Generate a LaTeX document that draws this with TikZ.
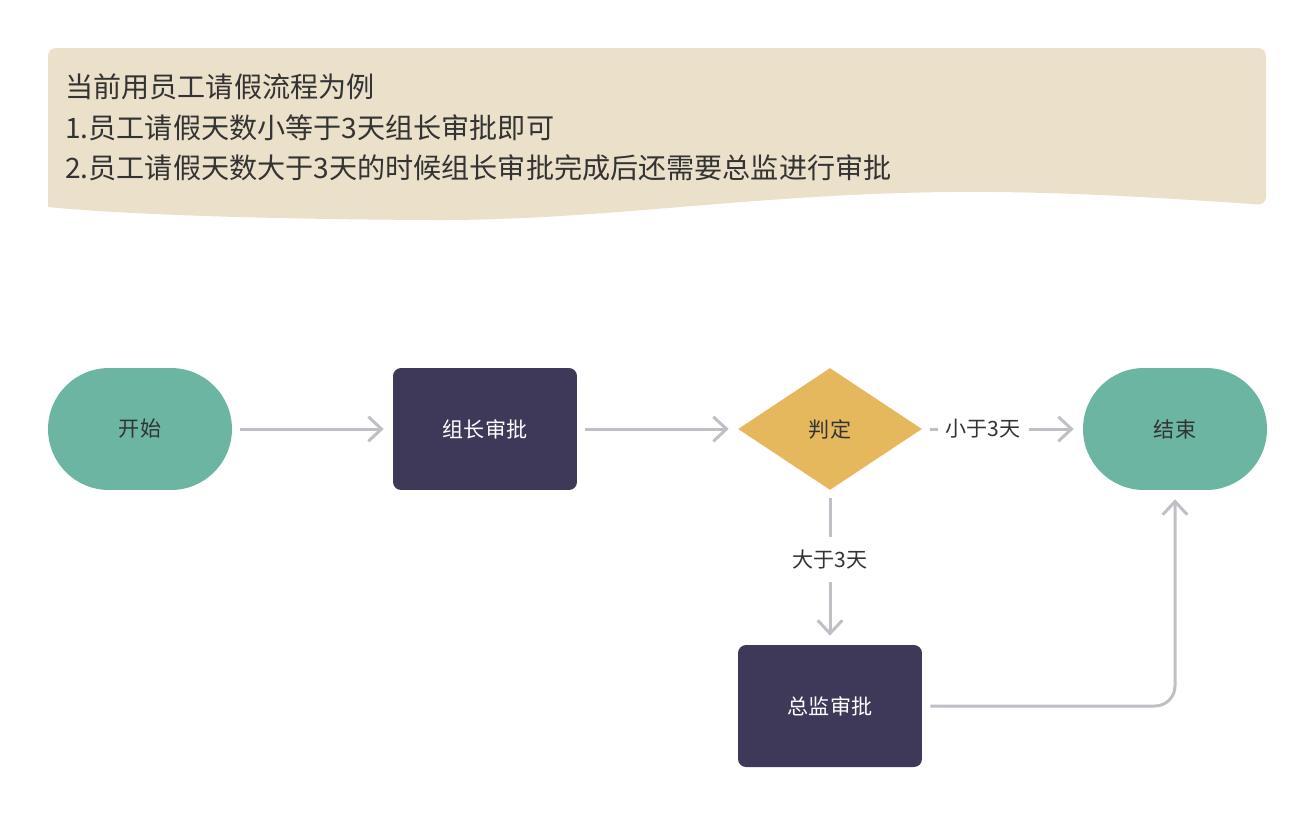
\documentclass[tikz,border=0pt]{standalone}
\usepackage{fontspec}
\setmainfont{Noto Sans CJK SC}
\usepackage{tikz}
\usetikzlibrary{arrows.meta,shapes.geometric}

\definecolor{bannerbg}{HTML}{EBE0CA}
\definecolor{termfill}{HTML}{6BB5A2}
\definecolor{taskfill}{HTML}{3E3859}
\definecolor{judgefill}{HTML}{E6B85E}
\definecolor{linegray}{HTML}{BFC0C5}
\definecolor{txtdark}{HTML}{333333}

\begin{document}
\begin{tikzpicture}[x=0.02cm,y=-0.02cm,
  >={Straight Barb[length=7.5pt,width=14pt]},
  terminal/.style={rectangle,rounded corners=1.22cm,fill=termfill,text=txtdark,
    minimum width=3.68cm,minimum height=2.44cm,font=\fontsize{12}{14}\selectfont},
  task/.style={rectangle,rounded corners=0.16cm,fill=taskfill,text=white,
    minimum width=3.68cm,minimum height=2.44cm,font=\fontsize{12}{14}\selectfont},
  judge/.style={diamond,fill=judgefill,text=txtdark,aspect=1.51,inner sep=0pt,
    minimum width=3.68cm,minimum height=2.44cm,font=\fontsize{12}{14}\selectfont},
  flow/.style={->,draw=linegray,line width=1.7pt,shorten <=0.16cm,shorten >=0.18cm},
  lbl/.style={fill=white,text=txtdark,inner xsep=0.16cm,inner ysep=0.26cm,
    font=\fontsize{12}{14}\selectfont},
  note/.style={anchor=base west,inner sep=0pt,text=txtdark,font=\fontsize{16}{20}\selectfont}]
\useasboundingbox (0,0) rectangle (1316,816);
% banner with wavy lower edge
\fill[bannerbg] (48,207) [rounded corners=0.16cm] -- (48,48) -- (1266,48) -- (1266,205) [sharp corners]
  .. controls (1150,197) and (1050,191) .. (950,192)
  .. controls (750,194) and (600,221) .. (430,220)
  .. controls (250,219) and (120,214) .. (48,207) -- cycle;
\node[note] (title) at (65,97) {当前用员工请假流程为例};
\node[note] (rule1) at (65,138) {1.员工请假天数小等于3天组长审批即可};
\node[note] (rule2) at (65,178) {2.员工请假天数大于3天的时候组长审批完成后还需要总监进行审批};
% flow
\node[terminal] (start) at (140,429) {开始};
\node[task] (leader) at (485,429) {组长审批};
\node[judge] (decide) at (830,429) {判定};
\node[terminal] (finish) at (1175,429) {结束};
\node[task] (director) at (830,706) {总监审批};
\draw[flow] (start) -- (leader);
\draw[flow] (leader) -- (decide);
\draw[flow] (decide) -- node[lbl,pos=0.38] {小于3天} (finish);
\draw[flow] (decide) -- node[lbl,pos=0.45] {大于3天} (director);
\draw[flow,rounded corners=0.4cm] (director) -| (finish);
\end{tikzpicture}
\end{document}
